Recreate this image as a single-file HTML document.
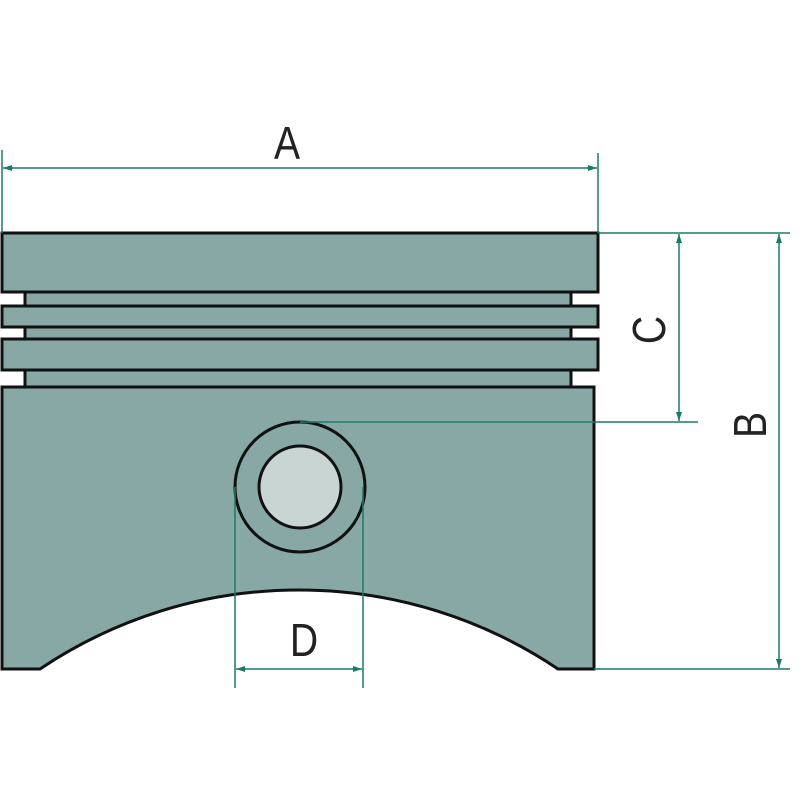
<!DOCTYPE html>
<html><head><style>html,body{margin:0;padding:0;background:#fff}svg{display:block}</style></head>
<body>
<svg width="800" height="800" viewBox="0 0 800 800" xmlns="http://www.w3.org/2000/svg">
<defs>
<marker id="ar" viewBox="0 0 12 8" refX="12" refY="4" markerWidth="12" markerHeight="6" markerUnits="userSpaceOnUse" orient="auto-start-reverse">
<path d="M0,0 L12,4 L0,8 Z" fill="#1a7a68"/></marker>
</defs>
<g fill="#87a8a5" stroke="#111" stroke-width="3">
<rect x="25" y="292" width="546" height="95"/>
<rect x="2" y="233" width="596" height="59"/>
<rect x="2" y="306" width="596" height="21"/>
<rect x="2" y="339" width="596" height="31"/>
<path d="M2,387 L594,387 L594,669 L558,669 A464,464 0 0 0 40,669 L2,669 Z"/>
<circle cx="300" cy="487" r="65"/>
<circle cx="300" cy="487" r="41" fill="#c9d5d3"/>
</g>
<g stroke="#1a7a68" stroke-width="1.5" fill="none">
<line x1="2" y1="150" x2="2" y2="233"/>
<line x1="598" y1="153" x2="598" y2="233"/>
<line x1="3" y1="168" x2="597" y2="168" marker-start="url(#ar)" marker-end="url(#ar)"/>
<line x1="598" y1="233" x2="790" y2="233"/>
<line x1="300" y1="422" x2="698" y2="422"/>
<line x1="594" y1="669" x2="790" y2="669"/>
<line x1="679" y1="234" x2="679" y2="421" marker-start="url(#ar)" marker-end="url(#ar)"/>
<line x1="779" y1="234" x2="779" y2="668" marker-start="url(#ar)" marker-end="url(#ar)"/>
<line x1="235" y1="487" x2="235" y2="688"/>
<line x1="363" y1="487" x2="363" y2="688"/>
<line x1="236" y1="669" x2="362" y2="669" marker-start="url(#ar)" marker-end="url(#ar)"/>
</g>
<g font-family="Liberation Sans, sans-serif" font-size="46" fill="#222" text-anchor="middle">
<text transform="translate(287,159) scale(0.85,1)">A</text>
<text transform="translate(304,656) scale(0.85,1)">D</text>
<text transform="translate(665,330) rotate(-90) scale(0.85,1)">C</text>
<text transform="translate(766,425) rotate(-90) scale(0.85,1)">B</text>
</g>
</svg>
</body></html>
